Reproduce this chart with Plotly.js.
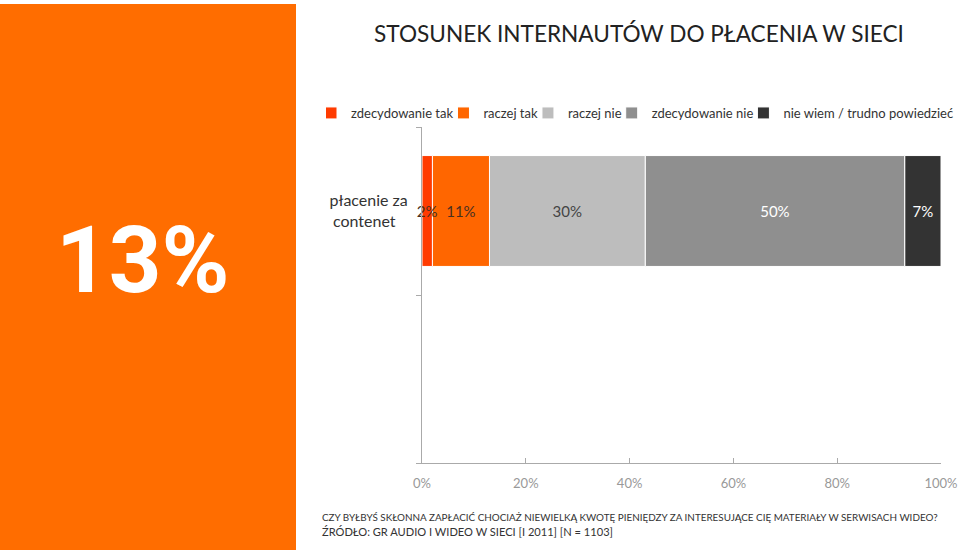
<!DOCTYPE html>
<html>
<head>
<meta charset="utf-8">
<script src="https://cdn.plot.ly/plotly-3.0.1.min.js"></script>
<style>html,body{margin:0;padding:0;background:#fff;}#chart{width:959px;height:550px;}</style>
</head>
<body>
<div id="chart"></div>
<script>
// ---- data ----
const categories = [' ', 'płacenie za contenet'];
const categoryLabels = ['', 'płacenie za<br>contenet&nbsp;&nbsp;&nbsp;'];
const seriesNames = ['zdecydowanie tak', 'raczej tak', 'raczej nie', 'zdecydowanie nie', 'nie wiem / trudno powiedzieć'];
const zdecydowanieTak = [null, 2];
const raczejTak = [null, 11];
const raczejNie = [null, 30];
const zdecydowanieNie = [null, 50];
const nieWiem = [null, 7];
const xTickVals = [0, 20, 40, 60, 80, 100];
const xTickText = ['0%', '20%', '40%', '60%', '80%', '100%'];
const bigNumber = '13%';
const chartTitle = 'STOSUNEK INTERNAUTÓW DO PŁACENIA W SIECI';
const footLine1 = 'CZY BYŁBYŚ SKŁONNA ZAPŁACIĆ CHOCIAŻ NIEWIELKĄ KWOTĘ PIENIĘDZY ZA INTERESUJĄCE CIĘ MATERIAŁY W SERWISACH WIDEO?';
const footLine2 = 'ŹRÓDŁO: GR AUDIO I WIDEO W SIECI [I 2011] [N = 1103]';

// ---- styles ----
const colors = ['#ff3b00', '#ff6600', '#bdbdbd', '#8f8f8f', '#333333'];
const textColors = ['#4a3020', '#4a3020', '#444444', '#ffffff', '#ffffff'];
const FONT = 'Lato, "Open Sans", sans-serif';

// fit a font size so text reaches a target pixel width
const cv = document.createElement('canvas').getContext('2d');
function fitSize(text, family, target, weight) {
  cv.font = (weight || 'normal') + ' 100px ' + family;
  const w = cv.measureText(text).width;
  return Math.round(100 * target / w * 10) / 10;
}

const seriesValues = [zdecydowanieTak, raczejTak, raczejNie, zdecydowanieNie, nieWiem];
// cumulative bases (so the first segment's label can be drawn on top)
const bases = seriesValues.map((vals, i) =>
  vals.map((v, j) => seriesValues.slice(0, i).reduce((s, a) => s + (a[j] || 0), 0)));

const traces = seriesValues.map((vals, i) => ({
  type: 'bar',
  orientation: 'h',
  name: seriesNames[i],
  legendrank: i + 1,
  y: categories,
  x: vals,
  base: bases[i],
  text: vals.map(v => v == null ? '' : v + '%'),
  textposition: 'inside',
  insidetextanchor: 'middle',
  textangle: 0,
  cliponaxis: false,
  insidetextfont: {family: FONT, size: 15, color: textColors[i]},
  marker: {color: colors[i], line: {color: '#ffffff', width: 1}},
  hoverinfo: 'skip'
})).reverse();

const L = 422, R = 941, T = 127, B = 463;
const pw = R - L, ph = B - T;
const px = X => (X - L) / pw;
const py = Y => (B - Y) / ph;

const titleSize = fitSize(chartTitle, 'Lato', 532);
const foot1Size = fitSize(footLine1, 'Lato', 623);
const foot2Size = fitSize(footLine2, 'Lato', 292);

const layout = {
  width: 959, height: 550,
  margin: {l: L, r: 959 - R, t: T, b: 550 - B, pad: 0},
  paper_bgcolor: '#ffffff', plot_bgcolor: '#ffffff',
  font: {family: FONT, color: '#333'},
  barmode: 'overlay',
  bargap: 0.34,
  showlegend: true,
  uniformtext: {mode: 'show', minsize: 15},
  title: {text: chartTitle, x: 639 / 959, xanchor: 'center', y: 1 - 34 / 550, yanchor: 'middle',
          font: {family: FONT, size: titleSize, color: '#222'}},
  legend: {orientation: 'h', x: px(340), xanchor: 'left', y: py(113), yanchor: 'middle',
           font: {family: FONT, size: 13, color: '#333'}, traceorder: 'normal',
           itemwidth: 30, indentation: -15, tracegroupgap: 0, bgcolor: 'rgba(0,0,0,0)'},
  xaxis: {range: [0, 100], tickvals: xTickVals, ticktext: xTickText, showgrid: false, zeroline: false,
          showline: true, linecolor: '#aaaaaa', linewidth: 1, ticks: 'inside', ticklen: 5, tickcolor: '#aaaaaa',
          ticklabelstandoff: 8, tickfont: {family: FONT, size: 13, color: '#999'}, fixedrange: true},
  yaxis: {type: 'category', categoryorder: 'array', categoryarray: categories, range: [-0.5, 1.5],
          tickmode: 'array', tickvals: categories, ticktext: categoryLabels,
          tickson: 'boundaries', showgrid: false, zeroline: false, showline: true, linecolor: '#aaaaaa',
          linewidth: 1, ticks: 'outside', ticklen: 5, tickcolor: '#aaaaaa', ticklabelstandoff: 10,
          tickfont: {family: FONT, size: 16, color: '#333'}, fixedrange: true},
  shapes: [{type: 'rect', xref: 'paper', yref: 'paper', x0: px(0), x1: px(296), y0: py(550), y1: py(4),
            fillcolor: '#ff6d00', line: {width: 0}, layer: 'below'}],
  annotations: [
    {text: '<b>' + bigNumber + '</b>', xref: 'paper', yref: 'paper', x: px(143), y: py(260), xanchor: 'center', yanchor: 'middle',
     showarrow: false, font: {family: 'Roboto, sans-serif', size: 92, color: '#ffffff'}},
    {text: footLine1, xref: 'paper', yref: 'paper', x: px(320), y: py(517), xanchor: 'left', yanchor: 'middle',
     showarrow: false, font: {family: FONT, size: foot1Size, color: '#333'}},
    {text: footLine2, xref: 'paper', yref: 'paper', x: px(320), y: py(531), xanchor: 'left', yanchor: 'middle',
     showarrow: false, font: {family: FONT, size: foot2Size, color: '#333'}}
  ]
};

Plotly.newPlot('chart', traces, layout, {displayModeBar: false, staticPlot: true});
</script>
</body>
</html>
